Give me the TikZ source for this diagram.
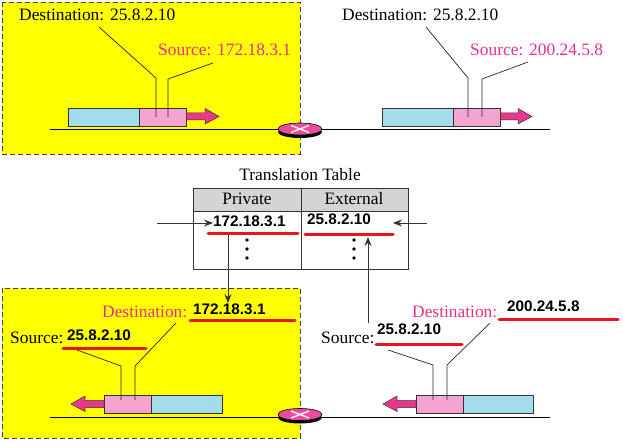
\documentclass[tikz,border=0pt]{standalone}
\usepackage{fontspec}
\setmainfont{Liberation Serif}
\setsansfont{Liberation Sans}
\usetikzlibrary{arrows.meta,shapes.geometric}
\definecolor{pinktxt}{HTML}{E6308B}
\definecolor{pinkfill}{HTML}{F5A3CF}
\definecolor{bluefill}{HTML}{A3DDEB}
\definecolor{arrfill}{HTML}{E8388E}
\definecolor{routfill}{HTML}{E84C9C}
\definecolor{ulred}{HTML}{E8141E}
\definecolor{hdrgray}{HTML}{D4D4D4}
\definecolor{bgyellow}{HTML}{FFFF00}
\tikzset{
  lbl/.style={font=\fontsize{17.4}{20}\selectfont, inner sep=0pt, anchor=base west},
  addr/.style={font=\fontsize{15.3}{17}\selectfont\sffamily\bfseries, inner sep=0pt, anchor=base west},
  zone/.style={fill=bgyellow, draw=black!75, dash pattern=on 5pt off 3pt, line width=0.8pt},
  pk/.style={draw=black!80, line width=0.6pt, inner sep=0pt},
  leader/.style={draw=black!85, line width=0.7pt},
  wire/.style={draw=black, line width=1pt},
  ul/.style={draw=ulred, line width=3pt, line cap=round},
  tarr/.style={draw=black!80, line width=0.8pt, -{Stealth[length=9pt,width=7pt,inset=3pt]}},
  parrow/.style={fill=arrfill, draw=black!80, line width=0.5pt}
}
\begin{document}
\begin{tikzpicture}[x=1pt,y=-1pt]
\useasboundingbox (0,0) rectangle (623,443);
% zones
\path[zone] (2,2) rectangle (300,154);
\path[zone] (2,288) rectangle (300,438);
% wires
\coordinate (w1a) at (50,130); \coordinate (w1b) at (550,130);
\coordinate (w2a) at (50,417); \coordinate (w2b) at (550,417);
\draw[wire] (w1a) -- (w1b);
\draw[wire] (w2a) -- (w2b);
% routers
\foreach \n/\y in {r1/129, r2/414.5}{
  \fill[black] (300,\y+3) ellipse [x radius=22, y radius=6];
  \node[ellipse, draw=black, line width=0.6pt, fill=routfill, minimum width=44pt, minimum height=12pt, inner sep=0pt] (\n) at (300,\y) {};
  \draw[white, line width=1.3pt] (300-9,\y-3.5) -- (300+9,\y+3.5) (300-9,\y+3.5) -- (300+9,\y-3.5);
}
% ---- top left packet ----
\node[pk, fill=bluefill, minimum width=71pt, minimum height=18pt, anchor=north west] (tlb) at (68,108) {};
\node[pk, fill=pinkfill, minimum width=47pt, minimum height=18pt, anchor=north west] (tlp) at (139,108) {};
\draw[parrow] (tlp.east |- 0,113) -- (205,113) -- (205,108.5) -- (219,116.5) -- (205,124) -- (205,120) -- (tlp.east |- 0,120) -- cycle;
\node[lbl] (tld) at (19,21) {Destination: 25.8.2.10};
\node[lbl, text=pinktxt] (tls) at (158,56) {Source: 172.18.3.1};
\draw[leader] (99,27) -- (156,78) -- (156,117);
\draw[leader] (213,63) -- (168,79) -- (168,117);
% ---- top right packet ----
\node[pk, fill=bluefill, minimum width=71pt, minimum height=18pt, anchor=north west] (trb) at (382,108) {};
\node[pk, fill=pinkfill, minimum width=47pt, minimum height=18pt, anchor=north west] (trp) at (453,108) {};
\draw[parrow] (trp.east |- 0,113) -- (518,113) -- (518,108.5) -- (532,116.5) -- (518,124) -- (518,120) -- (trp.east |- 0,120) -- cycle;
\node[lbl] (trd) at (342,21) {Destination: 25.8.2.10};
\node[lbl, text=pinktxt] (trs) at (470,56) {Source: 200.24.5.8};
\draw[leader] (426,27) -- (468,78) -- (468,117);
\draw[leader] (528,62) -- (482,79) -- (482,117);
% ---- translation table ----
\node[lbl, anchor=base] (ttl) at (300,181) {Translation Table};
\fill[hdrgray] (193,188) rectangle (408,211);
\draw[black!80, line width=0.8pt] (193,188) rectangle (408,269);
\draw[black!80, line width=0.8pt] (193,211) -- (408,211) (301,188) -- (301,269);
\node[lbl, anchor=base] (hp) at (247,205) {Private};
\node[lbl, anchor=base] (he) at (354,205) {External};
\node[addr] (priv) at (213,227) {172.18.3.1};
\node[addr] (ext) at (307,225) {25.8.2.10};
\coordinate (ulpa) at (208,234); \coordinate (ulpb) at (298,234);
\coordinate (ulea) at (305,235); \coordinate (uleb) at (393,235);
\draw[ul] (ulpa) -- (ulpb);
\draw[ul] (ulea) -- (uleb);
\foreach \x in {247,354}{
  \foreach \y in {240,249,258}{ \fill[black] (\x,\y) circle (1.9); }
}
\coordinate (inl) at (157,223); \coordinate (inr) at (427,223);
\draw[tarr] (inl) -- (priv.west |- 0,223);
\draw[tarr] (inr) -- (393,223);
% ---- bottom left packet ----
\node[pk, fill=pinkfill, minimum width=47pt, minimum height=18pt, anchor=north west] (blp) at (104,395) {};
\node[pk, fill=bluefill, minimum width=71pt, minimum height=18pt, anchor=north west] (blb) at (151,395) {};
\draw[parrow] (blp.west |- 0,400.5) -- (85,400.5) -- (85,396) -- (71,404) -- (85,411.5) -- (85,407.5) -- (blp.west |- 0,407.5) -- cycle;
\node[lbl, text=pinktxt] (bldl) at (102,317) {Destination:};
\node[addr] (bldv) at (193,314) {172.18.3.1};
\node[lbl] (blsl) at (10,343) {Source:};
\node[addr] (blsv) at (67,340) {25.8.2.10};
\draw[ul] (190,320) -- (295,320);
\draw[ul] (63,348) -- (146,348);
\draw[leader] (77,350) -- (121,366) -- (121,400);
\draw[leader] (176,323) -- (135,366) -- (135,400);
% ---- bottom right packet ----
\node[pk, fill=pinkfill, minimum width=47pt, minimum height=18pt, anchor=north west] (brp) at (416,395) {};
\node[pk, fill=bluefill, minimum width=70pt, minimum height=18pt, anchor=north west] (brb) at (463,395) {};
\draw[parrow] (brp.west |- 0,400.5) -- (397,400.5) -- (397,396) -- (383,404) -- (397,411.5) -- (397,407.5) -- (brp.west |- 0,407.5) -- cycle;
\node[lbl, text=pinktxt] (brdl) at (412,317) {Destination:};
\node[addr] (brdv) at (507,311) {200.24.5.8};
\node[lbl] (brsl) at (321,343) {Source:};
\node[addr] (brsv) at (377,334) {25.8.2.10};
\draw[ul] (376,344) -- (462,344);
\draw[ul] (499,319) -- (618,319);
\draw[leader] (388,350) -- (433,365) -- (433,400);
\draw[leader] (490,323) -- (447,365) -- (447,400);
% ---- table lookup arrows ----
\draw[tarr] (228,235) -- (bldv.north -| 228,0);
\coordinate (upfoot) at (368,323);
\draw[tarr] (upfoot) -- (368,237);
\end{tikzpicture}
\end{document}
